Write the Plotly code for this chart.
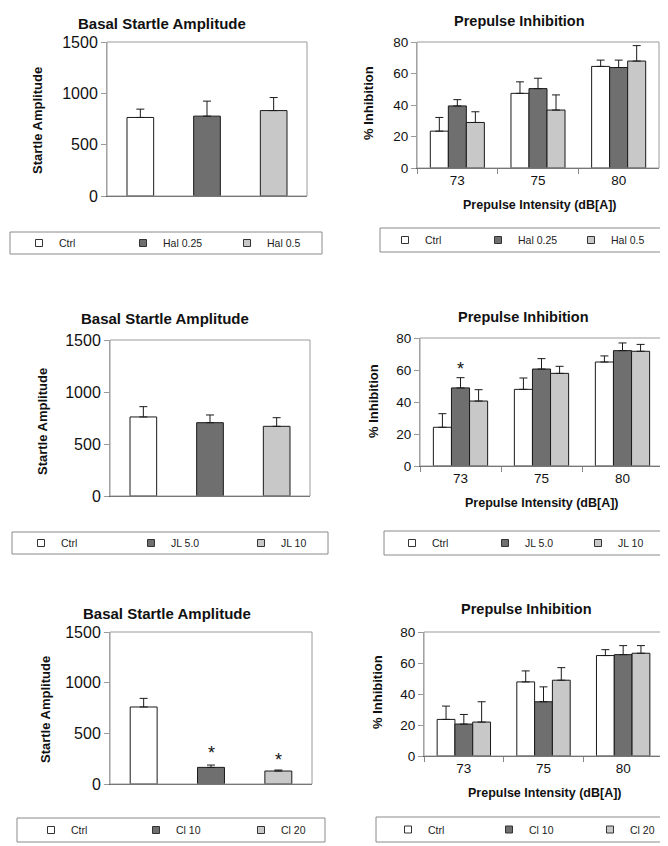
import plotly.graph_objects as go

# page is shown with the browser's default 8px body margin; the figure is sized
# so that it fills the visible 668x846 window exactly
OFF = 8
W, H = 668 - OFF, 846 - OFF

# ---------------- data ----------------
basal_groups_1 = ["Ctrl", "Hal 0.25", "Hal 0.5"]
basal_mean_1 = [765, 778, 832]
basal_top_1 = [846, 924, 959]

basal_groups_2 = ["Ctrl", "JL 5.0", "JL 10"]
basal_mean_2 = [760, 705, 670]
basal_top_2 = [859, 779, 753]

basal_groups_3 = ["Ctrl", "Cl 10", "Cl 20"]
basal_mean_3 = [760, 164, 128]
basal_top_3 = [845, 187, 138]
basal_star_3 = [None, 305, 239]

intensities = ["73", "75", "80"]

ppi_groups_1 = ["Ctrl", "Hal 0.25", "Hal 0.5"]
ppi_mean_1 = [[23.4, 47.4, 64.5], [39.4, 50.4, 63.8], [28.9, 36.8, 67.9]]
ppi_top_1 = [[32.1, 54.7, 68.5], [43.4, 57.0, 68.5], [35.7, 46.4, 77.7]]

ppi_groups_2 = ["Ctrl", "JL 5.0", "JL 10"]
ppi_mean_2 = [[24.2, 47.9, 65.0], [48.8, 60.6, 72.1], [40.6, 57.9, 71.7]]
ppi_top_2 = [[32.7, 55.0, 68.8], [55.2, 67.1, 76.9], [47.7, 62.3, 76.0]]
ppi_star_2 = [60.4, None, None]  # over JL 5.0

ppi_groups_3 = ["Ctrl", "Cl 10", "Cl 20"]
ppi_mean_3 = [[23.6, 47.8, 64.8], [20.6, 35.0, 65.4], [21.9, 48.9, 66.3]]
ppi_top_3 = [[32.2, 54.9, 68.6], [26.8, 44.6, 71.2], [35.0, 57.0, 71.2]]

colors = ["#ffffff", "#6f6f6f", "#c8c8c8"]

FONT = "Liberation Sans, Arial, sans-serif"

# ---------------- layout geometry (window pixels) ----------------
# (x0, x1, ytop, ybottom)
boxes = {
    1: (107, 307, 42, 196),
    2: (417, 659, 42, 168),
    3: (110, 310, 340, 496),
    4: (420, 663, 338, 466),
    5: (110, 312, 632, 784),
    6: (424, 663, 632, 756),
}


def px(x):
    return (x - OFF) / W


def py(y):
    return 1 - (y - OFF) / H


fig = go.Figure()

basal_sets = [
    (1, basal_groups_1, basal_mean_1, basal_top_1, None),
    (3, basal_groups_2, basal_mean_2, basal_top_2, None),
    (5, basal_groups_3, basal_mean_3, basal_top_3, basal_star_3),
]
ppi_sets = [
    (2, ppi_groups_1, ppi_mean_1, ppi_top_1, None),
    (4, ppi_groups_2, ppi_mean_2, ppi_top_2, ppi_star_2),
    (6, ppi_groups_3, ppi_mean_3, ppi_top_3, None),
]

annotations = []
shapes = []
layout = {}

for k in range(1, 7):
    x0, x1, yt, yb = boxes[k]
    xa = "xaxis" if k == 1 else f"xaxis{k}"
    ya = "yaxis" if k == 1 else f"yaxis{k}"
    layout[xa] = dict(domain=[px(x0), px(x1)], anchor=f"y{'' if k == 1 else k}")
    layout[ya] = dict(domain=[py(yb), py(yt)], anchor=f"x{'' if k == 1 else k}")
    xr = "x" if k == 1 else f"x{k}"
    shapes.append(dict(type="rect", xref=f"{xr} domain", yref=f"{'y' if k == 1 else 'y' + str(k)} domain",
                       x0=0, x1=1, y0=0, y1=1, line=dict(color="#9a9a9a", width=1), layer="above"))

# basal panels
for (k, groups, means, tops, stars) in basal_sets:
    xr = "x" if k == 1 else f"x{k}"
    yr = "y" if k == 1 else f"y{k}"
    for i, g in enumerate(groups):
        fig.add_trace(go.Bar(
            x=[g], y=[means[i]], xaxis=xr, yaxis=yr,
            marker=dict(color=colors[i], line=dict(color="#1a1a1a", width=1)),
            width=0.4, offsetgroup=f"b{k}", showlegend=False,
            error_y=dict(type="data", symmetric=False, array=[tops[i] - means[i]],
                         arrayminus=[0], color="#1a1a1a", thickness=1, width=4),
        ))
    xa = "xaxis" if k == 1 else f"xaxis{k}"
    ya = "yaxis" if k == 1 else f"yaxis{k}"
    layout[xa].update(type="category", categoryorder="array", categoryarray=groups,
                      range=[-0.5, 2.5], showticklabels=False, ticks="",
                      showline=True, linecolor="#555555", linewidth=1, showgrid=False, zeroline=False)
    layout[ya].update(range=[0, 1500], dtick=500, tick0=0, ticks="outside", ticklen=5,
                      tickcolor="#999999", showline=True, linecolor="#aaaaaa", linewidth=1,
                      showgrid=False, zeroline=False,
                      tickfont=dict(family=FONT, size=16, color="#111111"))
    if stars:
        for i, s in enumerate(stars):
            if s is not None:
                annotations.append(dict(x=i, y=s, xref=xr, yref=yr, text="*",
                                        showarrow=False, yanchor="middle",
                                        font=dict(family=FONT, size=18, color="#111111")))

# ppi panels
for (k, groups, means, tops, stars) in ppi_sets:
    xr = "x" if k == 1 else f"x{k}"
    yr = "y" if k == 1 else f"y{k}"
    for i, g in enumerate(groups):
        fig.add_trace(go.Bar(
            x=intensities, y=means[i], xaxis=xr, yaxis=yr, name=g,
            marker=dict(color=colors[i], line=dict(color="#1a1a1a", width=1)),
            offsetgroup=f"p{k}_{i}", showlegend=False,
            error_y=dict(type="data", symmetric=False,
                         array=[t - m for t, m in zip(tops[i], means[i])],
                         arrayminus=[0, 0, 0], color="#1a1a1a", thickness=1, width=4),
        ))
    xa = "xaxis" if k == 1 else f"xaxis{k}"
    ya = "yaxis" if k == 1 else f"yaxis{k}"
    layout[xa].update(type="category", categoryorder="array", categoryarray=intensities,
                      range=[-0.5, 2.5], ticks="outside", tickson="boundaries",
                      ticklen=5, tickcolor="#888888", showline=True, linecolor="#555555",
                      linewidth=1, showgrid=False, zeroline=False,
                      tickfont=dict(family=FONT, size=13.5, color="#111111"))
    layout[ya].update(range=[0, 80], dtick=20, tick0=0, ticks="outside", ticklen=5,
                      tickcolor="#999999", showline=True, linecolor="#aaaaaa", linewidth=1,
                      showgrid=False, zeroline=False,
                      tickfont=dict(family=FONT, size=13.5, color="#111111"))
    if stars:
        for j, s in enumerate(stars):
            if s is not None:
                annotations.append(dict(x=j, y=s, xref=xr, yref=yr, text="*",
                                        showarrow=False, yanchor="middle",
                                        font=dict(family=FONT, size=18, color="#111111")))

# titles (x center, y center in px)
titles = [
    ("Basal Startle Amplitude", 162, 24, 15),
    ("Prepulse Inhibition", 519, 21, 14.5),
    ("Basal Startle Amplitude", 165, 318, 15),
    ("Prepulse Inhibition", 523, 317, 14.5),
    ("Basal Startle Amplitude", 167, 613, 15),
    ("Prepulse Inhibition", 526, 609, 14.5),
]
for t, x, y, s in titles:
    annotations.append(dict(text=f"<b>{t}</b>", x=px(x), y=py(y), xref="paper", yref="paper",
                            showarrow=False, xanchor="center", yanchor="middle",
                            font=dict(family=FONT, size=s, color="#111111")))

ytitles = [
    ("Startle Amplitude", 38, 121),
    ("% Inhibition", 369, 103),
    ("Startle Amplitude", 43, 422),
    ("% Inhibition", 373, 401),
    ("Startle Amplitude", 45, 710),
    ("% Inhibition", 377, 692),
]
for t, x, y in ytitles:
    annotations.append(dict(text=f"<b>{t}</b>", x=px(x), y=py(y), xref="paper", yref="paper",
                            showarrow=False, xanchor="center", yanchor="middle", textangle=-90,
                            font=dict(family=FONT, size=13, color="#111111")))

xtitles = [(540, 205), (542, 503), (545, 793)]
for x, y in xtitles:
    annotations.append(dict(text="<b>Prepulse Intensity (dB[A])</b>", x=px(x), y=py(y),
                            xref="paper", yref="paper", showarrow=False,
                            xanchor="center", yanchor="middle",
                            font=dict(family=FONT, size=12.5, color="#111111")))

# legend boxes (x0, x1, y0, y1 px), first marker x, marker spacing, groups
legend_boxes = [
    (10, 322, 232, 254, 45, 103, basal_groups_1),
    (380, 662, 228, 252, 411, 92, ppi_groups_1),
    (12, 328, 532, 554, 47, 109, basal_groups_2),
    (384, 667, 531, 555, 418, 92, ppi_groups_2),
    (17, 325, 818, 842, 57, 104, basal_groups_3),
    (376, 667, 817, 842, 414, 100, ppi_groups_3),
]
for n, (x0, x1, y0, y1, m0, sp, groups) in enumerate(legend_boxes, start=1):
    shapes.append(dict(type="rect", xref="paper", yref="paper", x0=px(x0), x1=px(x1),
                       y0=py(y1), y1=py(y0), line=dict(color="#8a8a8a", width=1)))
    lname = "legend" if n == 1 else f"legend{n}"
    for i, g in enumerate(groups):
        fig.add_trace(go.Scatter(
            x=[None], y=[None], mode="markers", name=g, legend=lname,
            marker=dict(symbol="square", size=7, color=colors[i],
                        line=dict(color="#333333", width=1)),
            showlegend=True, hoverinfo="skip",
        ))
    layout[lname] = dict(orientation="h", x=px(m0 - 26), y=py((y0 + y1) / 2),
                         xanchor="left", yanchor="middle", bgcolor="rgba(0,0,0,0)",
                         borderwidth=0, entrywidth=sp - 44, entrywidthmode="pixels",
                         itemwidth=30, font=dict(family=FONT, size=10.5, color="#222222"),
                         tracegroupgap=0)

fig.update_layout(
    width=W, height=H, margin=dict(l=0, r=0, t=0, b=0, autoexpand=False),
    paper_bgcolor="#ffffff", plot_bgcolor="#ffffff",
    barmode="group", bargap=0.33, bargroupgap=0,
    annotations=annotations, shapes=shapes, **layout,
)

fig.write_html("out.html")
